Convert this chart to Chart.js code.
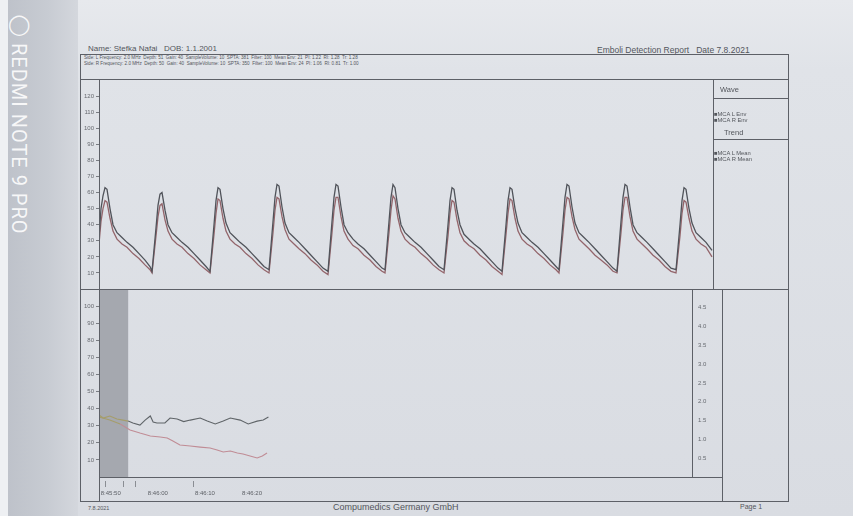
<!DOCTYPE html>
<html>
<head>
<meta charset="utf-8">
<script src="https://cdn.jsdelivr.net/npm/chart.js@4.4.1/dist/chart.umd.min.js"></script>
<style>
  html, body { margin: 0; padding: 0; }
  body {
    width: 853px; height: 516px; position: relative; overflow: hidden;
    background: linear-gradient(180deg, #e7e9ed 0px, #e0e3e8 70px, #d9dce2 516px);
    font-family: "Liberation Sans", Arial, sans-serif; color: #53565c;
  }
  #edge { position: absolute; left: 0; top: 0; width: 8px; height: 516px; background: #eef0f3; }
  #strip { position: absolute; left: 8px; top: 0; width: 70px; height: 516px;
    background: linear-gradient(90deg, #bec2ca 0%, #c7cbd2 55%, #d4d7dd 100%); }
  #mark { position: absolute; left: 7px; top: 12px; writing-mode: vertical-rl;
    font: 20px Roboto, sans-serif; color: rgba(255, 255, 255, 0.88); letter-spacing: 1px; }
  .ln { position: absolute; background: #5d6067; }
  .tx { position: absolute; white-space: nowrap; line-height: 1; }
  canvas { position: absolute; }
</style>
</head>
<body>
<div id="edge"></div>
<div id="strip"></div>
<div id="mark">◯ REDMI NOTE 9 PRO</div>

<div class="tx" style="left:88px;top:45px;font-size:8px;">Name: Stefka Nafai&nbsp;&nbsp;&nbsp;DOB: 1.1.2001</div>
<div class="tx" style="left:597px;top:46px;font-size:8.5px;">Emboli Detection Report&nbsp;&nbsp;&nbsp;Date 7.8.2021</div>
<div class="tx" style="left:84px;top:56px;font-size:4.6px;">Side: L  Frequency: 2.0 MHz&nbsp; Depth: 51&nbsp; Gain: 40&nbsp; SampleVolume: 10&nbsp; SPTA: 381&nbsp; Filter: 100&nbsp; Mean Env: 21&nbsp; PI: 1.22&nbsp; RI: 1.28&nbsp; Tr: 1.28</div>
<div class="tx" style="left:84px;top:61.5px;font-size:4.6px;">Side: R  Frequency: 2.0 MHz&nbsp; Depth: 50&nbsp; Gain: 40&nbsp; SampleVolume: 10&nbsp; SPTA: 350&nbsp; Filter: 100&nbsp; Mean Env: 24&nbsp; PI: 1.06&nbsp; RI: 0.81&nbsp; Tr: 1.00</div>

<canvas id="wave" width="633" height="209" style="left:80px;top:80px;"></canvas>
<canvas id="trend" width="642" height="212" style="left:80px;top:289px;"></canvas>

<!-- frame -->
<div class="ln" style="left:80px;top:54px;width:709px;height:1px;"></div>
<div class="ln" style="left:80px;top:501px;width:709px;height:1px;"></div>
<div class="ln" style="left:80px;top:54px;width:1px;height:448px;"></div>
<div class="ln" style="left:788px;top:54px;width:1px;height:448px;"></div>
<div class="ln" style="left:80px;top:79px;width:709px;height:1px;"></div>
<div class="ln" style="left:80px;top:289px;width:709px;height:1px;"></div>
<div class="ln" style="left:99px;top:477px;width:623px;height:1px;"></div>
<div class="ln" style="left:99px;top:79px;width:1px;height:423px;"></div>
<div class="ln" style="left:713px;top:79px;width:1px;height:210px;"></div>
<div class="ln" style="left:692px;top:289px;width:1px;height:188px;"></div>
<div class="ln" style="left:722px;top:289px;width:1px;height:213px;"></div>
<div class="ln" style="left:713px;top:98px;width:75px;height:1px;"></div>
<div class="ln" style="left:713px;top:139px;width:75px;height:1px;"></div>

<div id="legend"></div>

<div class="tx" style="left:333px;top:503px;font-size:9px;">Compumedics Germany GmbH</div>
<div class="tx" style="left:740px;top:503px;font-size:7px;">Page 1</div>
<div class="tx" style="left:88px;top:506px;font-size:5.5px;">7.8.2021</div>

<script>
// upper panel: spectral envelopes (sample index, cm/s)
const waveNames = ['MCA L Env', 'MCA R Env'];
const waveTicks = [10, 20, 30, 40, 50, 60, 70, 80, 90, 100, 110, 120];
const waveTime = [
  0, 2, 4, 6, 8, 11, 14, 18, 23, 28, 34, 40, 46, 51,
  53, 57, 59, 61, 63, 66, 69, 73, 78, 83, 89, 95, 101, 107,
  111, 115, 117, 119, 121, 124, 127, 131, 136, 141, 147, 153, 159, 165,
  170, 174, 176, 178, 180, 183, 186, 190, 195, 200, 206, 212, 218, 224,
  229, 233, 235, 237, 239, 242, 245, 249, 254, 259, 265, 271, 277, 283,
  286, 290, 292, 294, 296, 299, 302, 306, 311, 316, 322, 328, 334, 340,
  345, 349, 351, 353, 355, 358, 361, 365, 370, 375, 381, 387, 393, 399,
  403, 407, 409, 411, 413, 416, 419, 423, 428, 433, 439, 445, 451, 457,
  460, 464, 466, 468, 470, 473, 476, 480, 485, 490, 496, 502, 508, 514,
  518, 522, 524, 526, 528, 531, 534, 538, 543, 548, 554, 560, 566, 572,
  577, 581, 583, 585, 587, 590, 593, 597, 602, 607, 613
];
const waveL = [
  32, 50, 58, 63, 62, 50, 40, 35, 32, 29, 26, 22, 18, 14,
  11, 38, 52, 59, 60, 49, 40, 35, 32, 29, 26, 22, 18, 14,
  11, 40, 55, 63, 62, 50, 41, 35, 32, 29, 26, 22, 18, 14,
  12, 42, 57, 65, 64, 51, 41, 35, 32, 29, 25, 21, 17, 13,
  11, 42, 57, 65, 64, 51, 40, 35, 31, 28, 25, 21, 17, 13,
  12, 42, 57, 65, 63, 50, 40, 35, 32, 29, 26, 22, 18, 14,
  12, 40, 55, 63, 62, 49, 40, 34, 31, 28, 25, 21, 17, 13,
  11, 40, 55, 63, 62, 50, 41, 35, 32, 29, 26, 22, 18, 14,
  12, 42, 57, 65, 64, 51, 41, 35, 32, 29, 25, 21, 17, 13,
  11, 42, 57, 65, 64, 51, 40, 35, 32, 29, 25, 21, 17, 13,
  12, 40, 55, 63, 62, 50, 41, 35, 32, 29, 24
];
const waveR = [
  28, 42, 50, 55, 54, 44, 36, 31, 28, 26, 22, 19, 15, 12,
  10, 33, 45, 52, 53, 43, 36, 31, 28, 26, 22, 19, 15, 12,
  10, 34, 47, 56, 55, 44, 36, 31, 28, 26, 22, 19, 15, 12,
  10, 35, 49, 57, 56, 45, 37, 31, 28, 25, 22, 18, 15, 11,
  9, 35, 49, 57, 57, 45, 36, 31, 27, 25, 21, 18, 14, 11,
  10, 35, 49, 58, 56, 44, 36, 31, 28, 26, 22, 19, 15, 12,
  10, 33, 47, 55, 54, 43, 35, 30, 27, 25, 21, 18, 14, 11,
  9, 34, 47, 56, 55, 44, 36, 31, 28, 26, 22, 19, 15, 12,
  10, 35, 49, 57, 56, 45, 37, 31, 28, 25, 21, 18, 15, 11,
  10, 35, 49, 57, 57, 45, 36, 31, 28, 25, 21, 18, 14, 11,
  10, 33, 47, 55, 54, 44, 36, 31, 28, 26, 20
];

// lower panel: mean velocity trend (seconds, cm/s)
const trendNames = ['MCA L Mean', 'MCA R Mean'];
const trendTicks = [10, 20, 30, 40, 50, 60, 70, 80, 90, 100];
const countTicks = [0.5, 1.0, 1.5, 2.0, 2.5, 3.0, 3.5, 4.0, 4.5];
const trendTickTimes = [2.5, 12.5, 22.5, 32.5];
const trendTickLabels = ['8:45:50', '8:46:00', '8:46:10', '8:46:20'];
const trendMarkRange = [0, 6.2];
const eventTimes = [1.3, 5.1, 7.7, 20.0];
const trendTimeL = [0, 0.9, 2.3, 3.8, 5.1, 6.2, 7.2, 8.7, 9.8, 10.9, 11.5, 12.3, 14.0, 15.1, 16.6, 18.0, 19.4, 21.5, 23.0, 24.7, 26.4, 27.9, 30.0, 31.7, 33.6, 34.9, 36.0];
const trendL = [36.3, 34.5, 35.7, 33.9, 33.3, 32.7, 31.6, 30.4, 33.3, 35.7, 32.2, 31.6, 31.6, 34.5, 33.9, 32.4, 33.3, 34.5, 32.7, 31.0, 32.7, 34.5, 33.3, 31.0, 32.7, 33.3, 35.1];
const trendTimeR = [0, 2.3, 4.5, 6.6, 8.7, 10.9, 13.0, 14.5, 15.7, 17.2, 19.4, 21.5, 23.6, 25.1, 26.4, 27.9, 29.4, 30.6, 32.1, 33.6, 34.7, 35.7];
const trendR = [35.1, 33.3, 31.0, 27.5, 25.7, 24.0, 23.4, 22.8, 21.1, 18.7, 18.1, 17.5, 17.0, 15.8, 14.6, 15.2, 14.0, 13.5, 12.3, 11.1, 12.3, 14.0];

const tickFont = { family: '"Liberation Sans", Arial, sans-serif', size: 6 };
const tickColor = '#676a70';

// legend column
const legend = document.getElementById('legend');
function addText(text, left, top, size) {
  const el = document.createElement('div');
  el.className = 'tx';
  el.style.left = left + 'px';
  el.style.top = top + 'px';
  el.style.fontSize = size + 'px';
  el.textContent = text;
  legend.appendChild(el);
}
addText('Wave', 720, 86, 7.5);
waveNames.forEach((n, i) => addText('\u25A0' + n, 714, 112 + i * 6, 5.8));
addText('Trend', 724, 129, 7.5);
trendNames.forEach((n, i) => addText('\u25A0' + n, 714, 151 + i * 6, 5.8));

function zeroPad(scale) {
  scale.paddingTop = 0;
  scale.paddingBottom = 0;
  scale.paddingLeft = 0;
  scale.paddingRight = 0;
}

new Chart(document.getElementById('wave'), {
  type: 'line',
  data: {
    datasets: [
      {
        label: waveNames[0],
        data: waveTime.map((t, i) => ({ x: t, y: waveL[i] })),
        borderColor: '#50535a',
        borderWidth: 1.3,
        pointRadius: 0,
        tension: 0,
      },
      {
        label: waveNames[1],
        data: waveTime.map((t, i) => ({ x: t, y: waveR[i] })),
        borderColor: '#93656b',
        borderWidth: 1.3,
        pointRadius: 0,
        tension: 0,
      },
    ],
  },
  options: {
    responsive: false,
    animation: false,
    devicePixelRatio: 1,
    layout: { padding: 0 },
    plugins: { legend: { display: false }, tooltip: { enabled: false } },
    scales: {
      x: { type: 'linear', display: false, min: 0, max: 614 },
      y: {
        min: 0,
        max: 130,
        afterBuildTicks(scale) {
          scale.ticks = waveTicks.map((v) => ({ value: v }));
        },
        afterFit(scale) {
          scale.width = 19;
          zeroPad(scale);
        },
        ticks: { font: tickFont, color: tickColor, padding: 2 },
        grid: { drawOnChartArea: false, tickLength: 3, color: '#7a7d83' },
        border: { display: false },
      },
    },
  },
});

const bandPlugin = {
  id: 'band',
  beforeDatasetsDraw(chart) {
    const { ctx, chartArea, scales } = chart;
    const x0 = scales.x.getPixelForValue(trendMarkRange[0]);
    const x1 = scales.x.getPixelForValue(trendMarkRange[1]);
    ctx.save();
    ctx.fillStyle = '#a5a8af';
    ctx.fillRect(x0, chartArea.top, x1 - x0, chartArea.bottom - chartArea.top);
    ctx.restore();
  },
  afterDraw(chart) {
    const { ctx, chartArea, scales } = chart;
    ctx.save();
    ctx.strokeStyle = '#8a8d93';
    ctx.lineWidth = 1;
    eventTimes.forEach((t) => {
      const px = Math.round(scales.x.getPixelForValue(t)) + 0.5;
      ctx.beginPath();
      ctx.moveTo(px, chartArea.bottom + 4);
      ctx.lineTo(px, chartArea.bottom + 10);
      ctx.stroke();
    });
    ctx.restore();
  },
};

const olive = '#a59d6b';
new Chart(document.getElementById('trend'), {
  type: 'line',
  data: {
    datasets: [
      {
        label: trendNames[0],
        data: trendTimeL.map((t, i) => ({ x: t, y: trendL[i] })),
        borderColor: '#5f6468',
        borderWidth: 1.1,
        pointRadius: 0,
        tension: 0,
        yAxisID: 'y',
        segment: { borderColor: (ctx) => (ctx.p1.parsed.x <= trendMarkRange[1] ? olive : undefined) },
      },
      {
        label: trendNames[1],
        data: trendTimeR.map((t, i) => ({ x: t, y: trendR[i] })),
        borderColor: '#c08c95',
        borderWidth: 1.1,
        pointRadius: 0,
        tension: 0,
        yAxisID: 'y',
        segment: { borderColor: (ctx) => (ctx.p1.parsed.x <= trendMarkRange[1] ? olive : undefined) },
      },
    ],
  },
  options: {
    responsive: false,
    animation: false,
    devicePixelRatio: 1,
    layout: { padding: 0 },
    plugins: { legend: { display: false }, tooltip: { enabled: false } },
    scales: {
      x: {
        type: 'linear',
        min: 0,
        max: 126,
        afterBuildTicks(scale) {
          scale.ticks = trendTickTimes.map((v) => ({ value: v }));
        },
        afterFit(scale) {
          scale.height = 24;
          zeroPad(scale);
        },
        ticks: {
          font: tickFont,
          color: '#5b5e64',
          padding: 13,
          autoSkip: false,
          maxRotation: 0,
          callback: (v, i) => trendTickLabels[i],
        },
        grid: { drawOnChartArea: false, drawTicks: false },
        border: { display: false },
      },
      y: {
        position: 'left',
        min: 0,
        max: 110,
        afterBuildTicks(scale) {
          scale.ticks = trendTicks.map((v) => ({ value: v }));
        },
        afterFit(scale) {
          scale.width = 19;
          zeroPad(scale);
        },
        ticks: { font: tickFont, color: tickColor, padding: 2 },
        grid: { drawOnChartArea: false, tickLength: 3, color: '#7a7d83' },
        border: { display: false },
      },
      y2: {
        display: true,
        position: 'right',
        min: 0,
        max: 5,
        afterBuildTicks(scale) {
          scale.ticks = countTicks.map((v) => ({ value: v }));
        },
        afterFit(scale) {
          scale.width = 30;
          zeroPad(scale);
        },
        ticks: { font: tickFont, color: tickColor, padding: 6, callback: (v) => Number(v).toFixed(1) },
        grid: { drawOnChartArea: false, drawTicks: false },
        border: { display: false },
      },
    },
  },
  plugins: [bandPlugin],
});
</script>
</body>
</html>
